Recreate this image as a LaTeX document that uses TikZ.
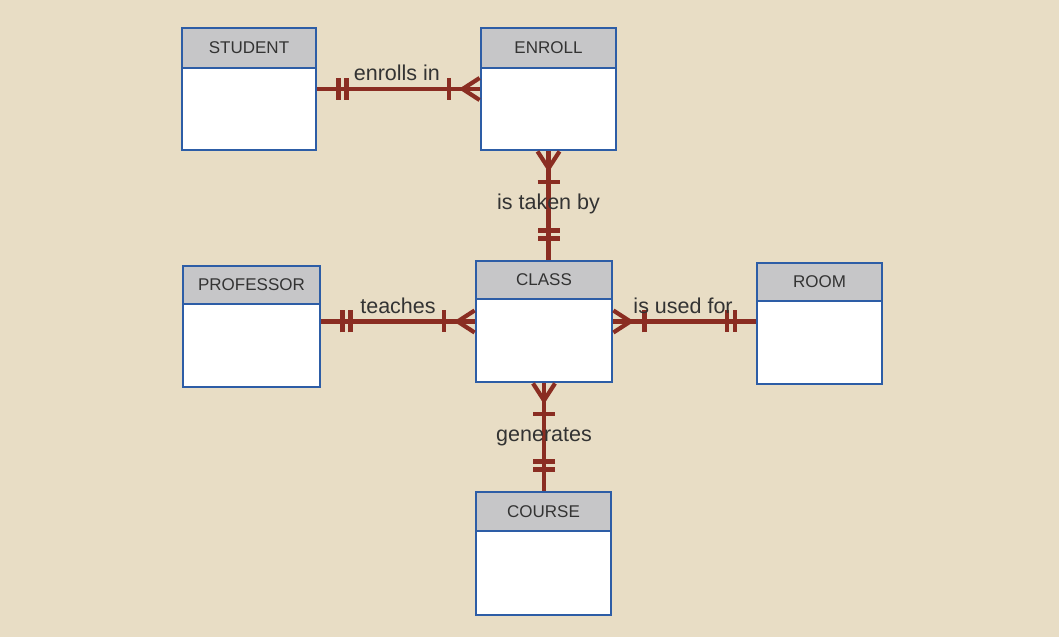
\documentclass[tikz,border=0pt]{standalone}
\usepackage{fontspec}
\setmainfont{Liberation Sans}
\usetikzlibrary{calc}
\definecolor{bg}{HTML}{E8DDC5}
\definecolor{hdrgray}{HTML}{C6C6C8}
\definecolor{boxblue}{HTML}{2D5DA6}
\definecolor{relred}{HTML}{8A2D22}
\definecolor{txt}{HTML}{333333}
\tikzset{
  entity/.style={draw=boxblue, line width=2.8pt, fill=white, inner sep=0pt},
  hdr/.style={draw=boxblue, line width=2.8pt, fill=hdrgray, inner sep=0pt, text=txt, font=\fontsize{17}{20}\selectfont},
  rel/.style={draw=relred, line width=4.2pt},
  lbl/.style={text=txt, font=\fontsize{21.5}{26}\selectfont, inner sep=0pt},
  pics/onebar/.style={code={
    \draw[rel] (21,-11) -- (21,11);
    \draw[rel] (29,-11) -- (29,11);
  }},
  pics/crowfoot/.style={code={
    \draw[rel] (0,11) -- (17,0) -- (0,-11);
    \draw[rel] (0,0) -- (17,0);
    \draw[rel] (31,-11) -- (31,11);
  }}
}
\begin{document}
\begin{tikzpicture}[x=1pt,y=1pt]
\fill[bg] (0,0) rectangle (1059,637);
\useasboundingbox (0,0) rectangle (1059,637);

% entities
\node[entity, minimum width=134pt, minimum height=122pt] (student) at (249,548) {};
\node[hdr, minimum width=134pt, minimum height=40pt, anchor=north] (studenth) at (student.north) {STUDENT};

\node[entity, minimum width=135pt, minimum height=122pt] (enroll) at (548.5,548) {};
\node[hdr, minimum width=135pt, minimum height=40pt, anchor=north] (enrollh) at (enroll.north) {ENROLL};

\node[entity, minimum width=137pt, minimum height=121pt] (professor) at (251.5,310.5) {};
\node[hdr, minimum width=137pt, minimum height=38pt, anchor=north] (professorh) at (professor.north) {PROFESSOR};

\node[entity, minimum width=136pt, minimum height=121pt] (class) at (544,315.5) {};
\node[hdr, minimum width=136pt, minimum height=38pt, anchor=north] (classh) at (class.north) {CLASS};

\node[entity, minimum width=125pt, minimum height=121pt] (room) at (819.5,313.5) {};
\node[hdr, minimum width=125pt, minimum height=38pt, anchor=north] (roomh) at (room.north) {ROOM};

\node[entity, minimum width=135pt, minimum height=123pt] (course) at (543.5,83.5) {};
\node[hdr, minimum width=135pt, minimum height=39pt, anchor=north] (courseh) at (course.north) {COURSE};

% relationships
% STUDENT - ENROLL
\draw[rel] (student.east) -- (enroll.west);
\pic at (student.east) {onebar};
\pic[rotate=180] at (enroll.west) {crowfoot};
\node[lbl] (l1) at ($(student.east)!0.49!(enroll.west)+(0,16)$) {enrolls in};

% ENROLL - CLASS
\coordinate (ec) at (enroll.south |- class.north);
\draw[rel] (enroll.south) -- (ec);
\pic[rotate=-90] at (enroll.south) {crowfoot};
\pic[rotate=90] at (ec) {onebar};
\node[lbl] (l2) at ($(enroll.south)!0.49!(ec)$) {is taken by};

% PROFESSOR - CLASS
\coordinate (pc) at (professor.east |- class.west);
\draw[rel] (pc) -- (class.west);
\pic at (pc) {onebar};
\pic[rotate=180] at (class.west) {crowfoot};
\node[lbl] (l3) at ($(pc)!0.5!(class.west)+(0,16)$) {teaches};

% CLASS - ROOM
\coordinate (cr) at (room.west |- class.east);
\draw[rel] (class.east) -- (cr);
\pic at (class.east) {crowfoot};
\pic[rotate=180] at (cr) {onebar};
\node[lbl] (l4) at ($(class.east)!0.49!(cr)+(0,16)$) {is used for};

% CLASS - COURSE
\coordinate (cc) at (class.south |- course.north);
\draw[rel] (class.south) -- (cc);
\pic[rotate=-90] at (class.south) {crowfoot};
\pic[rotate=90] at (cc) {onebar};
\node[lbl] (l5) at ($(class.south)!0.5!(cc)$) {generates};
\end{tikzpicture}
\end{document}
